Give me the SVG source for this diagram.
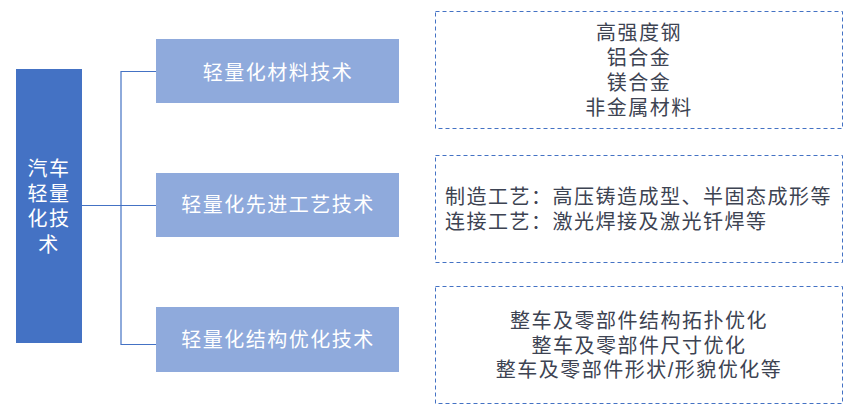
<svg xmlns="http://www.w3.org/2000/svg" width="855" height="412" viewBox="0 0 855 412">
<style>
.root{fill:#4472C4;}
.sub{fill:#8FAADC;}
.wt{fill:#ffffff;font-family:"Liberation Sans","Noto Sans CJK SC",sans-serif;font-size:20px;letter-spacing:1.5px;text-anchor:middle;}
.box{fill:none;stroke:#4472C4;stroke-width:1;stroke-dasharray:4 3;}
.dt{fill:#3d4352;font-family:"Liberation Sans","Noto Sans CJK SC",sans-serif;font-size:20px;letter-spacing:1.5px;}
.c{text-anchor:middle;}
.conn{fill:none;stroke:#4472C4;stroke-width:1.2;}
</style>
<rect width="855" height="412" fill="#ffffff"/>
<g id="connectors">
<path class="conn" d="M82 205.5H156"/>
<path class="conn" d="M156 71.5H121V344.5H156"/>
</g>
<g id="root">
<rect class="root" x="16" y="69" width="66" height="274"/>
<text class="wt"><tspan x="49" y="176">汽车</tspan><tspan x="49" y="201">轻量</tspan><tspan x="49" y="226">化技</tspan><tspan x="49" y="252">术</tspan></text>
</g>
<g id="n1">
<rect class="sub" x="156" y="39" width="243" height="64"/>
<text class="wt" x="278" y="80">轻量化材料技术</text>
</g>
<g id="n2">
<rect class="sub" x="156" y="173" width="243" height="64"/>
<text class="wt" x="278" y="212">轻量化先进工艺技术</text>
</g>
<g id="n3">
<rect class="sub" x="156" y="307" width="243" height="65"/>
<text class="wt" x="278" y="347">轻量化结构优化技术</text>
</g>
<g id="d1">
<rect class="box" x="435.5" y="11.5" width="407" height="117"/>
<text class="dt c"><tspan x="639" y="40">高强度钢</tspan><tspan x="639" y="65">铝合金</tspan><tspan x="639" y="90">镁合金</tspan><tspan x="639" y="115">非金属材料</tspan></text>
</g>
<g id="d2">
<rect class="box" x="435.5" y="155.5" width="407" height="107"/>
<text class="dt"><tspan x="445" y="204">制造工艺：高压铸造成型、半固态成形等</tspan><tspan x="445" y="229">连接工艺：激光焊接及激光钎焊等</tspan></text>
</g>
<g id="d3">
<rect class="box" x="435.5" y="286.5" width="407" height="117"/>
<text class="dt c"><tspan x="639" y="328">整车及零部件结构拓扑优化</tspan><tspan x="639" y="353">整车及零部件尺寸优化</tspan><tspan x="639" y="377">整车及零部件形状/形貌优化等</tspan></text>
</g>
</svg>
